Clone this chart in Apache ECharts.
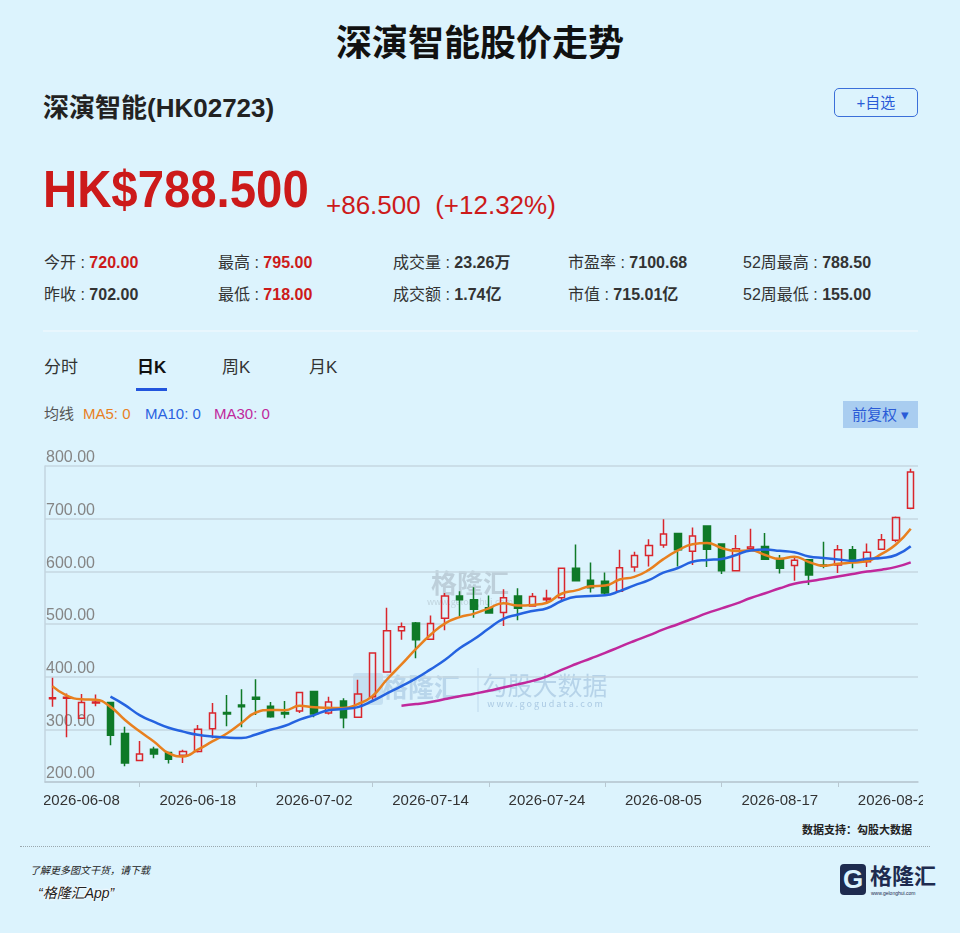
<!DOCTYPE html>
<html>
<head>
<meta charset="utf-8">
<script src="https://cdn.jsdelivr.net/npm/echarts@6.0.0/dist/echarts.min.js"></script>
<style>
  html, body { margin: 0; padding: 0; }
  body { width: 960px; height: 933px; background: #dcf3fd; position: relative; overflow: hidden;
         font-family: "Liberation Sans", "Noto Sans CJK SC", sans-serif; color: #222; }
  .a { position: absolute; white-space: nowrap; line-height: 1; }
  .red { color: #cc1a1a; }
  .stat { font-size: 16px; color: #333; }
  .stat b { font-weight: bold; }
  #chart { position: absolute; left: 44px; top: 440px; width: 879px; height: 380px; }
</style>
</head>
<body>
<div class="a" style="left:0;width:960px;top:26px;text-align:center;font-size:36px;font-weight:bold;color:#111;">深演智能股价走势</div>

<div class="a" style="left:43px;top:95px;font-size:26px;font-weight:bold;color:#222;">深演智能(HK02723)</div>
<div class="a" style="left:834px;top:88px;width:82px;height:27px;border:1.5px solid #3b6fd9;border-radius:5px;color:#2a5bd7;font-size:15px;line-height:27px;text-align:center;">+自选</div>

<div class="a red" style="left:43px;top:163px;font-size:52px;font-weight:bold;transform:scaleX(0.91);transform-origin:left top;">HK$788.500</div>
<div class="a red" style="left:326px;top:192px;font-size:26px;">+86.500&nbsp;&nbsp;(+12.32%)</div>

<div class="a stat" style="left:44px;top:255px;">今开 : <b class="red">720.00</b></div>
<div class="a stat" style="left:218px;top:255px;">最高 : <b class="red">795.00</b></div>
<div class="a stat" style="left:393px;top:255px;">成交量 : <b>23.26万</b></div>
<div class="a stat" style="left:568px;top:255px;">市盈率 : <b>7100.68</b></div>
<div class="a stat" style="left:743px;top:255px;">52周最高 : <b>788.50</b></div>
<div class="a stat" style="left:44px;top:287px;">昨收 : <b>702.00</b></div>
<div class="a stat" style="left:218px;top:287px;">最低 : <b class="red">718.00</b></div>
<div class="a stat" style="left:393px;top:287px;">成交额 : <b>1.74亿</b></div>
<div class="a stat" style="left:568px;top:287px;">市值 : <b>715.01亿</b></div>
<div class="a stat" style="left:743px;top:287px;">52周最低 : <b>155.00</b></div>

<div class="a" style="left:43px;top:330px;width:875px;height:2px;background:#e8f6fd;"></div>

<div class="a" style="left:44px;top:359px;font-size:17px;color:#333;">分时</div>
<div class="a" style="left:137px;top:359px;font-size:17px;color:#111;font-weight:bold;">日K</div>
<div class="a" style="left:222px;top:359px;font-size:17px;color:#333;">周K</div>
<div class="a" style="left:309px;top:359px;font-size:17px;color:#333;">月K</div>
<div class="a" style="left:136px;top:388px;width:31px;height:3px;background:#2255dd;"></div>

<div class="a" style="left:44px;top:406px;font-size:15px;color:#555;">均线</div>
<div class="a" style="left:83px;top:406px;font-size:15px;color:#e8801f;">MA5: 0</div>
<div class="a" style="left:145px;top:406px;font-size:15px;color:#2a62e0;">MA10: 0</div>
<div class="a" style="left:214px;top:406px;font-size:15px;color:#c0289c;">MA30: 0</div>
<div class="a" style="left:843px;top:401px;width:75px;height:27px;background:#a9cdf0;color:#2a5bd7;font-size:15px;line-height:27px;text-align:center;">前复权 ▾</div>

<div id="chart"></div>

<div class="a" style="right:48px;top:825px;font-size:11px;font-weight:bold;color:#222;">数据支持：勾股大数据</div>
<div class="a" style="left:20px;top:846px;width:910px;border-top:1px dotted #9aa7ae;"></div>
<div class="a" style="left:30px;top:866px;font-size:10px;font-style:italic;color:#222;">了解更多图文干货，请下载</div>
<div class="a" style="left:38px;top:886px;font-size:14px;font-style:italic;color:#222;text-shadow:0 0 2px #fff,0 0 2px #fff,0 0 3px #fff;">“格隆汇App”</div>
<div class="a" style="left:840px;top:864px;width:26px;height:31px;background:#1e2b4f;border-radius:4px;color:#dcf3fd;font-size:26px;font-weight:bold;line-height:31px;text-align:center;">G</div>
<div class="a" style="left:870px;top:866px;font-size:22px;font-weight:bold;color:#1e2b4f;">格隆汇</div>
<div class="a" style="left:871px;top:891px;font-size:5px;color:#1e2b4f;">www.gelonghui.com</div>

<script>
// ---- data ----
const dates = [
  '2026-06-04','2026-06-05','2026-06-08','2026-06-09','2026-06-10','2026-06-11','2026-06-12','2026-06-15','2026-06-16','2026-06-17',
  '2026-06-18','2026-06-22','2026-06-23','2026-06-24','2026-06-25','2026-06-26','2026-06-29','2026-06-30','2026-07-02','2026-07-03',
  '2026-07-06','2026-07-07','2026-07-08','2026-07-09','2026-07-10','2026-07-13','2026-07-14','2026-07-15','2026-07-16','2026-07-17',
  '2026-07-20','2026-07-21','2026-07-22','2026-07-23','2026-07-24','2026-07-27','2026-07-28','2026-07-29','2026-07-30','2026-07-31',
  '2026-08-03','2026-08-04','2026-08-05','2026-08-06','2026-08-07','2026-08-10','2026-08-11','2026-08-12','2026-08-13','2026-08-14',
  '2026-08-17','2026-08-18','2026-08-19','2026-08-20','2026-08-21','2026-08-24','2026-08-25','2026-08-26','2026-08-27','2026-08-28'
];
const opens = [358,359,321,350,351,292,241,262,256,251, 258,301,332,346,361,344,332,335,372,331,
               354,323,362,409,487,502,471,511,553,546, 531,522,553,534,546,550,606,583,581,562,
               608,630,650,672,638,686,652,601,643,647, 622,611,622,612,612,641,618,642,659,720];
const closes = [360,361,351,352,289,236,253,253,243,258, 300,331,329,343,357,324,329,370,329,352,
                322,367,445,487,495,470,501,553,546,528, 521,550,530,552,549,606,582,569,559,607,
                630,649,671,641,667,642,601,643,646,623, 606,621,593,610,641,618,636,660,702,788.5];
const lows = [343,285,320,344,270,230,240,245,235,236, 256,283,306,304,327,322,321,331,323,328,
              302,322,356,408,470,435,470,488,515,512, 520,496,507,533,541,544,581,560,553,561,
              599,609,645,609,612,608,595,600,640,622, 596,582,574,606,597,606,608,641,655,718];
const highs = [398,368,367,366,352,305,278,267,257,261, 308,350,365,376,395,352,354,371,373,362,
               359,394,446,531,503,504,516,559,562,570, 554,566,568,559,565,607,651,617,598,641,
               637,661,699,673,683,687,653,669,681,673, 631,627,623,656,650,648,653,671,704,795];
const ma5 = [382,364,357,356,342.6,317.8,296.2,276.6,254.8,248.6, 261.4,277,292.2,312.2,332,336.8,336.4,344.6,341.8,340.8,
             340.4,348,363,394.6,423.2,452.8,479.6,501.2,513,519.6, 529.8,539.6,535,536.2,540.4,557.4,563.8,571.6,573,584.6,
             589.4,602.8,623.2,639.6,651.6,654,644.4,638.8,639.8,631, 623.8,627.8,617.8,610.6,614.2,616.6,619.6,633,651.4,680.9];
const ma10 = [null,null,null,null,362,346,327,314,303,295.6, 289.6,286.6,284.4,283.5,290.3,299.1,306.7,318.4,327,336.4,
              338.6,342.2,353.8,368.2,382,396.6,413.8,432.1,453.8,471.4, 491.3,509.6,518.1,524.6,530,543.6,551.7,553.3,554.6,562.5,
              573.4,583.3,597.4,606.3,618.1,621.7,623.6,631,639.7,641.3, 638.9,636.1,628.3,625.2,622.6,620.2,623.7,625.4,631,647.6];
const ma30 = [null,null,null,null,null,null,null,null,null,null, null,null,null,null,null,null,null,null,null,null,
              null,null,null,null,345,347.9,351.8,357.5,362.9,367.7, 373.1,379.4,385.4,392,400.7,413,424,434.5,445.1,456.7,
              467.7,478.3,489.7,499.6,510,520.6,529.6,538.7,549.3,558.3, 567.8,576.3,581.2,585.3,590.2,595.1,599.6,603.2,608.4,617.1];
const yMin = 200, yMax = 800, yStep = 100;

// ---- chart ----
const RED = '#d9262c', GREEN = '#0f7a28';
const kData = dates.map((d, i) => [opens[i], closes[i], lows[i], highs[i]]);
const chart = echarts.init(document.getElementById('chart'), null, { renderer: 'canvas' });
const wmText = (x, y, text, size, color, extra) => Object.assign({
  type: 'text', x: x, y: y, z: 0, silent: true,
  style: Object.assign({ text: text, fill: color, font: size + 'px "Noto Sans CJK SC", sans-serif', textAlign: 'center', textVerticalAlign: 'middle' }, extra || {})
});
chart.setOption({
  animation: false,
  backgroundColor: 'transparent',
  grid: { left: 1, right: 5, top: 26, bottom: 38, containLabel: false, outerBoundsMode: 'none' },
  graphic: [
    wmText(426, 143, '格隆汇', 26, 'rgba(150,165,175,0.45)', { font: 'bold 26px "Noto Sans CJK SC", sans-serif' }),
    wmText(426, 162, 'www.gelonghui.com', 9, 'rgba(150,165,175,0.4)'),
    { type: 'rect', x: 309, y: 233, z: 0, silent: true, shape: { width: 30, height: 32, r: 3 }, style: { fill: 'rgba(120,160,200,0.22)' } },
    wmText(377, 247, '格隆汇', 26, 'rgba(120,160,200,0.35)', { font: 'bold 26px "Noto Sans CJK SC", sans-serif' }),
    { type: 'line', z: 0, silent: true, shape: { x1: 434, y1: 228, x2: 434, y2: 272 }, style: { stroke: 'rgba(120,160,200,0.3)', lineWidth: 1 } },
    wmText(501, 245, '勾股大数据', 25, 'rgba(120,160,200,0.38)'),
    wmText(501, 264, 'w w w . g o g u d a t a . c o m', 9, 'rgba(110,150,195,0.45)')
  ],
  xAxis: {
    type: 'category',
    data: dates,
    boundaryGap: true,
    axisLine: { show: true, lineStyle: { color: '#b8c8d2', width: 1.5 } },
    axisTick: { show: true, alignWithLabel: true, length: 5, lineStyle: { color: '#b8c8d2' },
                interval: (i) => i % 8 === 6 },
    axisLabel: { color: '#333', fontSize: 15, margin: 11, fontFamily: 'Liberation Sans',
                 interval: (i) => i % 8 === 2, hideOverlap: false },
    splitLine: { show: false }
  },
  yAxis: {
    type: 'value', min: yMin, max: yMax, interval: yStep, scale: true,
    axisLine: { show: true, lineStyle: { color: '#c3d5df', width: 1.5 } },
    axisTick: { show: false },
    axisLabel: { inside: true, margin: 1, color: '#858585', fontSize: 16, fontFamily: 'Liberation Sans',
                 verticalAlign: 'bottom', padding: [0, 0, 0, 0], formatter: (v) => v.toFixed(2) },
    splitLine: { show: true, lineStyle: { color: '#c6d7e0', width: 1.5 } }
  },
  series: [
    {
      type: 'candlestick', name: 'K', data: kData, barWidth: 7, z: 3,
      itemStyle: { color: 'rgba(0,0,0,0)', color0: GREEN, borderColor: RED, borderColor0: GREEN, borderWidth: 1.5 }
    },
    { type: 'line', name: 'MA5', data: ma5, smooth: true, showSymbol: false, z: 4,
      lineStyle: { color: '#e8801f', width: 2.5 } },
    { type: 'line', name: 'MA10', data: ma10, smooth: true, showSymbol: false, z: 4,
      lineStyle: { color: '#2563e0', width: 2.5 } },
    { type: 'line', name: 'MA30', data: ma30, smooth: true, showSymbol: false, z: 4,
      lineStyle: { color: '#c0289c', width: 2.5 } }
  ]
});
</script>
</body>
</html>
